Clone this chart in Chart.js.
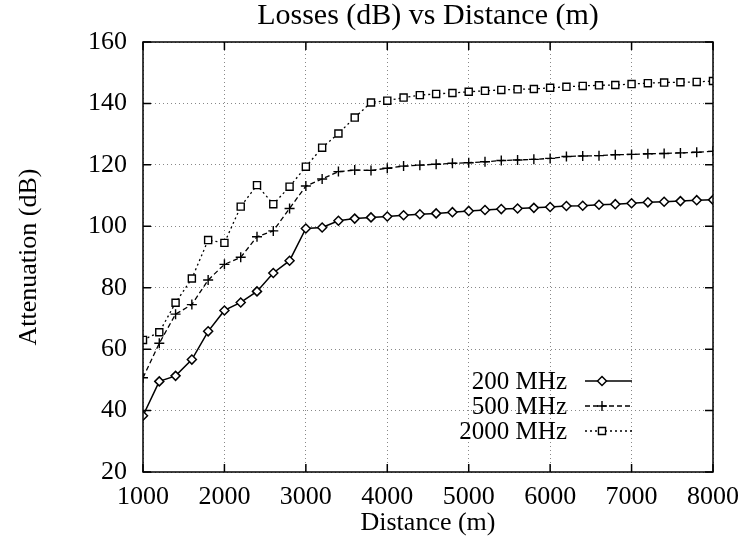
<!DOCTYPE html>
<html>
<head>
<meta charset="utf-8">
<script src="https://cdn.jsdelivr.net/npm/chart.js@4/dist/chart.umd.min.js"></script>
<style>
html, body { margin: 0; padding: 0; background: #fff; }
#wrap { width: 741px; height: 542px; }
</style>
</head>
<body>
<div id="wrap"><canvas id="mainGraph"></canvas></div>
<script>
var ctx = document.getElementById('mainGraph').getContext('2d');

const SERIF = '"Liberation Serif", "Times New Roman", serif';

// distance in m, one point every 200 m
const distances = [1000, 1200, 1400, 1600, 1800, 2000, 2200, 2400, 2600, 2800,
  3000, 3200, 3400, 3600, 3800, 4000, 4200, 4400, 4600, 4800,
  5000, 5200, 5400, 5600, 5800, 6000, 6200, 6400, 6600, 6800,
  7000, 7200, 7400, 7600, 7800, 8000];

const loss200 = [38.3, 49.5, 51.3, 56.6, 65.8, 72.6, 75.2, 78.8, 84.8, 88.8,
  99.3, 99.6, 101.8, 102.5, 102.9, 103.2, 103.6, 103.9, 104.2, 104.6,
  105.0, 105.3, 105.6, 105.8, 106.0, 106.3, 106.6, 106.7, 107.0, 107.2,
  107.5, 107.8, 108.0, 108.2, 108.5, 108.6];

const loss500 = [50.7, 61.9, 71.4, 74.5, 82.5, 87.6, 89.9, 96.6, 98.5, 105.8,
  113.1, 115.4, 117.8, 118.3, 118.2, 118.9, 119.6, 119.9, 120.2, 120.5,
  120.7, 121.0, 121.4, 121.6, 121.8, 122.1, 122.7, 122.9, 123.0, 123.3,
  123.4, 123.6, 123.7, 123.9, 124.1, 124.4];

const loss2000 = [63.0, 65.5, 75.1, 83.0, 95.5, 94.6, 106.4, 113.4, 107.2, 112.9,
  119.4, 125.6, 130.2, 135.4, 140.3, 140.9, 141.9, 142.7, 143.1, 143.4,
  143.8, 144.1, 144.4, 144.6, 144.7, 145.1, 145.4, 145.7, 145.9, 146.0,
  146.3, 146.6, 146.8, 146.9, 147.0, 147.3];

const seriesLabels = ['200 MHz', '500 MHz', '2000 MHz'];
const xTicks = [1000, 2000, 3000, 4000, 5000, 6000, 7000, 8000];
const yTicks = [20, 40, 60, 80, 100, 120, 140, 160];

function toPoints(values) {
  return values.map((v, i) => ({x: distances[i], y: v}));
}

// box around the plot + short inward ticks (gnuplot style) + legend in the corner
const framePlugin = {
  id: 'frame',
  afterDatasetsDraw(chart) {
    const c = chart.ctx;
    const a = chart.chartArea;
    const xs = chart.scales.x, ys = chart.scales.y;
    c.save();
    c.strokeStyle = '#000';
    c.lineWidth = 1.5;
    c.setLineDash([]);
    c.strokeRect(a.left, a.top, a.right - a.left, a.bottom - a.top);
    c.beginPath();
    yTicks.forEach(t => {
      const y = ys.getPixelForValue(t);
      c.moveTo(a.left, y); c.lineTo(a.left + 8, y);
      c.moveTo(a.right, y); c.lineTo(a.right - 8, y);
    });
    xTicks.forEach(t => {
      const x = xs.getPixelForValue(t);
      c.moveTo(x, a.bottom); c.lineTo(x, a.bottom - 8);
      c.moveTo(x, a.top); c.lineTo(x, a.top + 8);
    });
    c.stroke();

    // legend
    c.font = '25px ' + SERIF;
    c.textAlign = 'right';
    c.textBaseline = 'middle';
    chart.data.datasets.forEach((ds, i) => {
      const y = a.bottom - 91 + i * 25;
      const tx = a.right - 146;
      c.fillStyle = '#000';
      c.fillText(ds.label, tx, y + 1);
      c.strokeStyle = ds.borderColor;
      c.lineWidth = ds.borderWidth;
      c.setLineDash(ds.borderDash || []);
      c.beginPath();
      c.moveTo(tx + 18, y);
      c.lineTo(tx + 65, y);
      c.stroke();
      c.setLineDash([]);
      c.fillStyle = ds.pointBackgroundColor;
      c.strokeStyle = ds.pointBorderColor;
      c.lineWidth = ds.pointBorderWidth;
      Chart.helpers.drawPoint(c, {
        pointStyle: ds.pointStyle, radius: ds.pointRadius,
        rotation: 0, borderWidth: ds.pointBorderWidth
      }, tx + 35, y);
    });
    c.restore();
  }
};

const data = {
  datasets: [
    {
      label: seriesLabels[0],
      data: toPoints(loss200),
      borderColor: '#000',
      borderWidth: 1.5,
      pointStyle: 'rectRot',
      pointRadius: 4.5,
      pointBackgroundColor: '#fff',
      pointBorderColor: '#000',
      pointBorderWidth: 1.5
    },
    {
      label: seriesLabels[1],
      data: toPoints(loss500),
      borderColor: '#000',
      borderWidth: 1.3,
      borderDash: [5, 3],
      pointStyle: 'cross',
      pointRadius: 5,
      pointBackgroundColor: '#fff',
      pointBorderColor: '#000',
      pointBorderWidth: 1.4
    },
    {
      label: seriesLabels[2],
      data: toPoints(loss2000),
      borderColor: '#000',
      borderWidth: 1.3,
      borderDash: [2, 3],
      pointStyle: 'rect',
      pointRadius: 5,
      pointBackgroundColor: '#fff',
      pointBorderColor: '#000',
      pointBorderWidth: 1.4
    }
  ]
};

var chart = new Chart(ctx, {
  type: 'line',
  data: data,
  plugins: [framePlugin],
  options: {
    responsive: true,
    maintainAspectRatio: false,
    animation: false,
    layout: { padding: { left: 0, right: 28, top: 0, bottom: 0 } },
    plugins: {
      legend: { display: false },
      tooltip: { enabled: false },
      title: {
        display: true,
        fullSize: false,
        text: 'Losses (dB) vs Distance (m)',
        color: '#000',
        font: { family: SERIF, size: 30, weight: 'normal', lineHeight: 1.1 },
        padding: { top: 0, bottom: 9 }
      }
    },
    scales: {
      x: {
        type: 'linear',
        min: 1000,
        max: 8000,
        afterBuildTicks: s => { s.ticks = xTicks.map(v => ({value: v})); },
        afterFit: s => { s.height = 70; },
        ticks: {
          color: '#000', font: { family: SERIF, size: 26 }, padding: 2, maxRotation: 0,
          callback: v => String(v)
        },
        grid: { color: '#888', lineWidth: 1, drawTicks: true, tickLength: 8, tickColor: 'rgba(0,0,0,0)' },
        border: { display: false, dash: [1, 3] },
        title: {
          display: true,
          text: 'Distance (m)',
          color: '#000',
          font: { family: SERIF, size: 26 },
          padding: { top: 0, bottom: 3 }
        }
      },
      y: {
        type: 'linear',
        min: 20,
        max: 160,
        afterBuildTicks: s => { s.ticks = yTicks.map(v => ({value: v})); },
        afterFit: s => { s.width = 143; },
        ticks: { color: '#000', font: { family: SERIF, size: 26 }, padding: 16 },
        grid: { color: '#888', lineWidth: 1, drawTicks: false },
        border: { display: false, dash: [1, 3] },
        title: {
          display: true,
          text: 'Attenuation (dB)',
          color: '#000',
          font: { family: SERIF, size: 26 },
          padding: { top: 14, bottom: 0 }
        }
      }
    }
  }
});
</script>
</body>
</html>
